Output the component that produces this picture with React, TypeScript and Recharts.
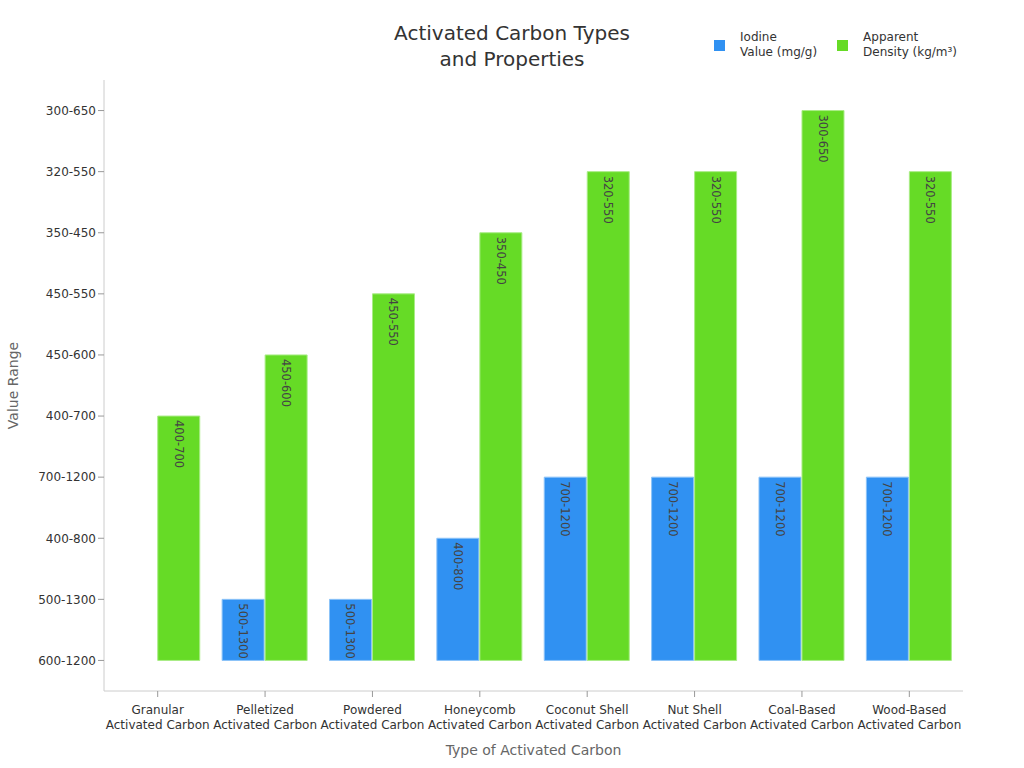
import React from 'react';
import { BarChart, Bar, XAxis, YAxis, Legend, LabelList } from 'recharts';

const categories = [
  'Granular\nActivated Carbon',
  'Pelletized\nActivated Carbon',
  'Powdered\nActivated Carbon',
  'Honeycomb\nActivated Carbon',
  'Coconut Shell\nActivated Carbon',
  'Nut Shell\nActivated Carbon',
  'Coal-Based\nActivated Carbon',
  'Wood-Based\nActivated Carbon',
];

// y axis is categorical, listed bottom to top
const rangeLabels = [
  '600-1200',
  '500-1300',
  '400-800',
  '700-1200',
  '400-700',
  '450-600',
  '450-550',
  '350-450',
  '320-550',
  '300-650',
];

const iodineValue = ['600-1200', '500-1300', '500-1300', '400-800', '700-1200', '700-1200', '700-1200', '700-1200'];
const apparentDensity = ['400-700', '450-600', '450-550', '350-450', '320-550', '320-550', '300-650', '320-550'];

const BLUE = '#3091F2';
const GREEN = '#66DB26';
const FONT = 'DejaVu Sans, sans-serif';

const data = categories.map((name, i) => ({
  name,
  iodine: rangeLabels.indexOf(iodineValue[i]),
  density: rangeLabels.indexOf(apparentDensity[i]),
  iodineText: iodineValue[i],
  densityText: apparentDensity[i],
}));

const CategoryTick = (props: any) => {
  const { x, y, payload } = props;
  const lines = String(payload.value).split('\n');
  return (
    <text x={x} y={y + 15} textAnchor="middle" fill="#333" fontSize={12} fontFamily={FONT}>
      {lines.map((l, i) => (
        <tspan key={i} x={x} dy={i === 0 ? 0 : 15}>
          {l}
        </tspan>
      ))}
    </text>
  );
};

const BarLabel = (props: any) => {
  const { x, y, width, height, value } = props;
  if (!height || height < 1) return null;
  const cx = x + width / 2;
  const ty = y + 4;
  return (
    <text
      x={cx}
      y={ty}
      transform={`rotate(90, ${cx}, ${ty})`}
      textAnchor="start"
      dominantBaseline="central"
      fill="#444"
      fontSize={11.5}
      fontFamily={FONT}
    >
      {value}
    </text>
  );
};

const LegendContent = () => {
  const items = [
    { color: BLUE, lines: ['Iodine', 'Value (mg/g)'] },
    { color: GREEN, lines: ['Apparent', 'Density (kg/m³)'] },
  ];
  return (
    <div style={{ display: 'flex', fontFamily: FONT, fontSize: 12, color: '#333' }}>
      {items.map((it, i) => (
        <div key={i} style={{ display: 'flex', alignItems: 'center', marginRight: i === 0 ? 20 : 0 }}>
          <div style={{ width: 11, height: 11, background: it.color, marginRight: 15 }} />
          <div style={{ lineHeight: '15px' }}>
            {it.lines.map((l, j) => (
              <div key={j}>{l}</div>
            ))}
          </div>
        </div>
      ))}
    </div>
  );
};

export default function App() {
  return (
    <div style={{ position: 'absolute', left: 0, top: 0, width: 1024, height: 768, background: '#fff' }}>
      <div
        style={{
          position: 'absolute',
          top: 20,
          left: 0,
          width: 1024,
          textAlign: 'center',
          fontFamily: FONT,
          fontSize: 20,
          lineHeight: '26px',
          color: '#333',
        }}
      >
        Activated Carbon Types
        <br />
        and Properties
      </div>
      <BarChart
        width={1024}
        height={768}
        data={data}
        margin={{ top: 80, right: 61, bottom: 27, left: 24 }}
        barCategoryGap="10%"
        barGap={1}
      >
        <XAxis
          dataKey="name"
          height={50}
          tick={<CategoryTick />}
          stroke="#ccc"
          tickLine={{ stroke: '#999' }}
          interval={0}
          label={{
            value: 'Type of Activated Carbon',
            position: 'bottom',
            offset: 4,
            style: { fill: '#666', fontSize: 14, fontFamily: FONT },
          }}
        />
        <YAxis
          type="number"
          domain={[-0.5, 9.5]}
          ticks={[0, 1, 2, 3, 4, 5, 6, 7, 8, 9]}
          tickFormatter={(v: number) => rangeLabels[v] ?? ''}
          width={80}
          stroke="#ccc"
          tickLine={{ stroke: '#999' }}
          tick={{ fill: '#333', fontSize: 12, fontFamily: FONT }}
          label={{
            value: 'Value Range',
            angle: -90,
            position: 'insideLeft',
            offset: -11,
            style: { fill: '#666', fontSize: 14, fontFamily: FONT, textAnchor: 'middle' },
          }}
        />
        <Legend
          verticalAlign="middle"
          align="center"
          content={<LegendContent />}
          wrapperStyle={{ position: 'absolute', top: 30, left: 714, right: 'auto', bottom: 'auto', width: 300 }}
        />
        <Bar dataKey="iodine" name="Iodine Value (mg/g)" fill={BLUE} stroke="#8cc3f8" strokeWidth={1} isAnimationActive={false}>
          <LabelList dataKey="iodineText" content={<BarLabel />} />
        </Bar>
        <Bar dataKey="density" name="Apparent Density (kg/m³)" fill={GREEN} stroke="#a9ec86" strokeWidth={1} isAnimationActive={false}>
          <LabelList dataKey="densityText" content={<BarLabel />} />
        </Bar>
      </BarChart>
    </div>
  );
}
